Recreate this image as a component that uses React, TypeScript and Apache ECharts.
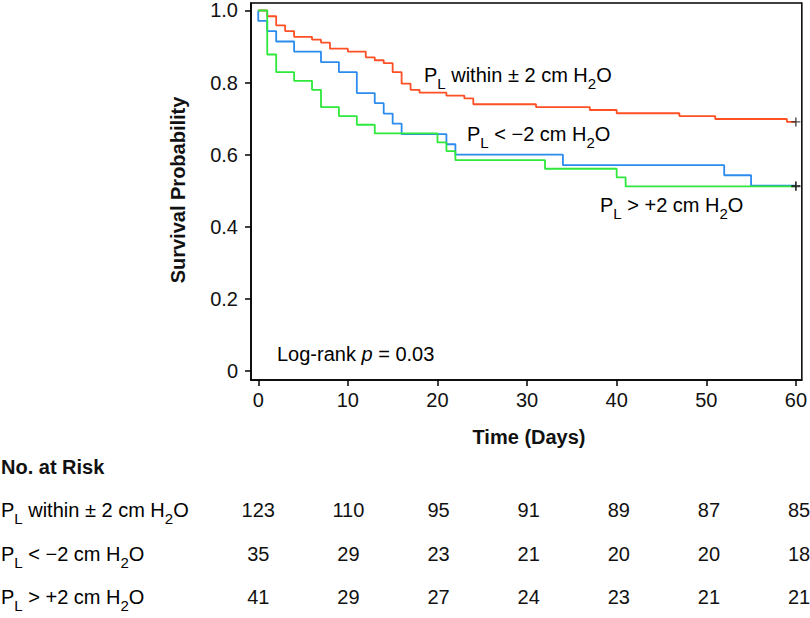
import React, { useEffect, useRef } from "react";
import * as echarts from "echarts";

const FONT = "'Liberation Sans', Arial, Helvetica, sans-serif";
const INK = "#111111";

// Kaplan–Meier step points: [day] and [survival probability]
const withinDays = [0, 1, 2, 3, 4, 6, 7, 8, 10, 12, 13, 14, 15, 16, 17, 18, 21, 23, 24, 31, 37, 40, 47, 51, 59, 60];
const withinSurv = [1, 0.984, 0.959, 0.943, 0.927, 0.919, 0.911, 0.894, 0.886, 0.87, 0.862, 0.854, 0.829, 0.797, 0.78, 0.772, 0.764, 0.756, 0.74, 0.732, 0.724, 0.715, 0.707, 0.699, 0.691, 0.691];
const belowDays = [0, 0, 1, 2, 4, 7, 9, 11, 13, 14, 15, 16, 21, 22, 34, 52, 55, 60];
const belowSurv = [1, 0.971, 0.943, 0.914, 0.886, 0.857, 0.829, 0.771, 0.743, 0.714, 0.686, 0.657, 0.629, 0.6, 0.571, 0.543, 0.514, 0.514];
const aboveDays = [0, 1, 2, 4, 6, 7, 9, 11, 13, 20, 21, 22, 32, 40, 41, 60];
const aboveSurv = [1, 0.878, 0.829, 0.805, 0.78, 0.732, 0.707, 0.683, 0.659, 0.634, 0.61, 0.585, 0.561, 0.537, 0.512, 0.512];
const censorDays = [60, 60, 60];
const censorSurv = [0.691, 0.514, 0.512];

// Number at risk table
const riskDays = [0, 10, 20, 30, 40, 50, 60];
const riskWithin = [123, 110, 95, 91, 89, 87, 85];
const riskBelow = [35, 29, 23, 21, 20, 20, 18];
const riskAbove = [41, 29, 27, 24, 23, 21, 21];

const xTicks = [0, 10, 20, 30, 40, 50, 60];
const yTicks = [0, 0.2, 0.4, 0.6, 0.8, 1.0];

const COLORS = { within: "#FF4F24", below: "#2B8CEE", above: "#2EE83C" };

const rich = {
  n: { fontSize: 20, fontFamily: FONT, color: INK, lineHeight: 24, verticalAlign: "bottom", padding: [0, 0, 6, 0] },
  s: { fontSize: 15, fontFamily: FONT, color: INK, lineHeight: 18, verticalAlign: "bottom" },
  i: { fontSize: 20, fontFamily: FONT, color: INK, lineHeight: 24, verticalAlign: "bottom", padding: [0, 0, 6, 0], fontStyle: "italic" },
};

const labelWithin = "{n|P}{s|L}{n| within ± 2 cm H}{s|2}{n|O}";
const labelBelow = "{n|P}{s|L}{n| < −2 cm H}{s|2}{n|O}";
const labelAbove = "{n|P}{s|L}{n| > +2 cm H}{s|2}{n|O}";

const zip = (a: number[], b: number[]) => a.map((v, i) => [v, b[i]]);

export default function App() {
  const ref = useRef<HTMLDivElement>(null);
  useEffect(() => {
    if (!ref.current) return;
    const chart = echarts.init(ref.current, undefined, { renderer: "svg" });
    const axisLineStyle = { color: "#000", width: 1.5 };
    const riskRow = (counts: number[], row: number) => ({
      type: "scatter",
      xAxisIndex: 1,
      yAxisIndex: 1,
      symbolSize: 0,
      clip: false,
      itemStyle: { color: "#fff", opacity: 1 },
      silent: true,
      data: riskDays.map((d, i) => [d, row, counts[i]]),
      label: {
        show: true,
        position: "inside",
        formatter: (p: any) => String(p.value[2]),
        fontSize: 20,
        fontFamily: FONT,
        color: INK,
        opacity: 1,
        textBorderWidth: 0,
      },
      labelLayout: { hideOverlap: false },
    });
    const kmLine = (days: number[], surv: number[], color: string) => ({
      type: "line",
      step: "end",
      showSymbol: false,
      symbol: "none",
      silent: true,
      data: zip(days, surv),
      lineStyle: { color, width: 1.8 },
      itemStyle: { color },
    });
    const t = (x: number, y: number, text: string) => ({
      type: "text",
      x,
      y,
      style: { text, rich, align: "left", verticalAlign: "middle" },
    });
    chart.setOption({
      animation: false,
      grid: [
        { left: 251, right: 5, top: 3, bottom: 238, show: true, borderColor: "#000", borderWidth: 1.5 },
        { left: 251, right: 5, top: 510, bottom: 21 },
      ],
      xAxis: [
        {
          type: "value",
          min: -0.81,
          max: 60.665,
          gridIndex: 0,
          axisLine: { show: true, onZero: false, lineStyle: axisLineStyle },
          axisTick: { show: true, customValues: xTicks, length: 6, lineStyle: axisLineStyle },
          axisLabel: { customValues: xTicks, margin: 10, fontSize: 20, fontFamily: FONT, color: INK },
          splitLine: { show: false },
        },
        {
          type: "value",
          min: -0.81,
          max: 60.665,
          gridIndex: 1,
          axisLine: { show: false },
          axisTick: { show: false },
          axisLabel: { show: false },
          splitLine: { show: false },
        },
      ],
      yAxis: [
        {
          type: "value",
          min: -0.025,
          max: 1.0208,
          gridIndex: 0,
          axisLine: { show: true, onZero: false, lineStyle: axisLineStyle },
          axisTick: { show: true, customValues: yTicks, length: 6, lineStyle: axisLineStyle },
          axisLabel: {
            customValues: yTicks,
            margin: 13,
            fontSize: 20,
            fontFamily: FONT,
            color: INK,
            formatter: (v: number) => (v === 0 ? "0" : v.toFixed(1)),
          },
          splitLine: { show: false },
        },
        {
          type: "value",
          min: 0,
          max: 2,
          inverse: true,
          gridIndex: 1,
          axisLine: { show: false },
          axisTick: { show: false },
          axisLabel: { show: false },
          splitLine: { show: false },
        },
      ],
      series: [
        kmLine(withinDays, withinSurv, COLORS.within),
        kmLine(belowDays, belowSurv, COLORS.below),
        kmLine(aboveDays, aboveSurv, COLORS.above),
        {
          type: "scatter",
          silent: true,
          symbol: "path://M4.2,0H5.8V4.2H10V5.8H5.8V10H4.2V5.8H0V4.2H4.2Z",
          symbolSize: 9,
          itemStyle: { color: "#222" },
          data: zip(censorDays, censorSurv),
          z: 5,
        },
        riskRow(riskWithin, 0),
        riskRow(riskBelow, 1),
        riskRow(riskAbove, 2),
      ],
      graphic: [
        t(424, 78.5, labelWithin),
        t(467, 137.5, labelBelow),
        t(600, 209, labelAbove),
        t(277, 358, "{n|Log-rank }{i|p}{n| = 0.03}"),
        {
          type: "text",
          x: 178,
          y: 190,
          rotation: Math.PI / 2,
          style: { text: "Survival Probability", font: `bold 20px ${FONT}`, fill: INK, align: "center", verticalAlign: "middle" },
        },
        {
          type: "text",
          x: 529,
          y: 437,
          style: { text: "Time (Days)", font: `bold 20px ${FONT}`, fill: INK, align: "center", verticalAlign: "middle" },
        },
        {
          type: "text",
          x: 1,
          y: 467,
          style: { text: "No. at Risk", font: `bold 20px ${FONT}`, fill: INK, align: "left", verticalAlign: "middle" },
        },
        t(1, 514, labelWithin),
        t(1, 557.5, labelBelow),
        t(1, 601, labelAbove),
      ],
    });
    return () => chart.dispose();
  }, []);
  return (
    <div
      ref={ref}
      style={{ position: "fixed", left: 0, top: 0, width: 810, height: 618, background: "#fff" }}
    />
  );
}
